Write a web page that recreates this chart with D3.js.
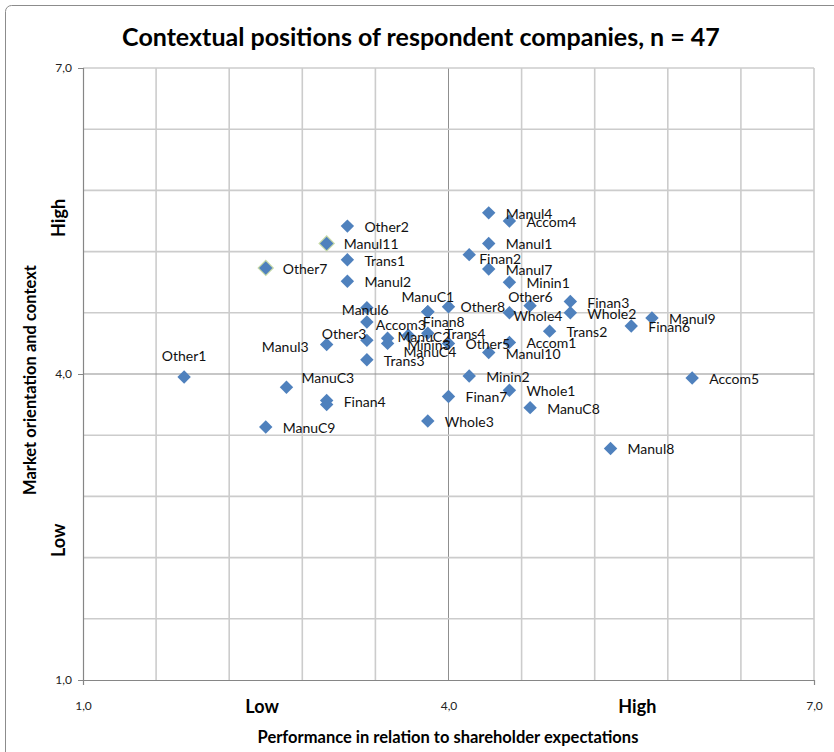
<!DOCTYPE html>
<html>
<head>
<meta charset="utf-8">
<script src="https://cdn.jsdelivr.net/npm/d3@7"></script>
<style>
  html, body { margin: 0; padding: 0; background: #fff; }
  svg { display: block; }
  text { font-family: Lato, "Open Sans", sans-serif; }
</style>
</head>
<body>
<svg id="chart" width="834" height="752"></svg>
<script>
// Respondent companies: performance vs. market orientation (scale 1-7)
const companies = ["Other1","Other2","Other3","Other5","Other6","Other7","Other8",
  "Manul1","Manul2","Manul3","Manul4","Manul6","Manul7","Manul8","Manul9","Manul10","Manul11",
  "ManuC1","ManuC2","ManuC3","ManuC4","ManuC8","ManuC9",
  "Trans1","Trans2","Trans3","Trans4",
  "Finan2","Finan3","Finan4","Finan6","Finan7","Finan8",
  "Accom1","Accom3","Accom4","Accom5",
  "Minin1","Minin2","Minin3",
  "Whole1","Whole2","Whole3","Whole4"];
const performance = [1.83,3.17,3.33,4.00,4.67,2.50,4.00,
  4.33,3.17,3.00,4.33,3.33,4.33,5.33,5.67,4.33,3.00,
  3.83,3.50,2.67,3.50,4.67,2.50,
  3.17,4.83,3.33,3.83,
  4.17,5.00,3.00,5.50,4.00,3.83,
  4.50,3.33,4.50,6.00,
  4.50,4.17,3.67,
  4.50,5.00,3.83,4.50];
const marketOrientation = [3.97,5.45,4.33,4.30,4.67,5.04,4.66,
  5.28,4.91,4.29,5.58,4.65,5.03,3.27,4.55,4.21,5.28,
  4.61,4.35,3.87,4.30,3.67,3.48,
  5.12,4.42,4.14,4.40,
  5.17,4.71,3.74,4.47,3.78,4.61,
  4.31,4.51,5.50,3.96,
  4.90,3.98,4.38,
  3.84,4.60,3.54,4.60];

// Unlabelled responses: one beside Finan4, two sitting under Manul11 and Other7
const extraPerformance = [3.00];
const extraMarket = [3.70];
const underPerformance = [3.00, 2.50];
const underMarket = [5.28, 5.04];

const axisTicks = [1, 4, 7];
const axisTickLabels = ["1,0", "4,0", "7,0"];
const levelLabels = ["Low", "High"];
const xLevelPositions = [2.47, 5.55];
const yLevelPositions = [2.37, 5.53];

// Label placement tweaks where names would collide: [dx, dy, anchor]
const labelNudge = {
  Other1: [0, -16, "middle"], ManuC3: [15, -4], Manul6: [-25, 7], Other3: [-45, -1],
  Manul3: [-18, 8, "end"], Accom3: [9, 8], ManuC2: [10, 4], Minin3: [-1, 15],
  ManuC4: [16, 14], ManuC1: [0, -10, "middle"], Finan8: [-5, 15], Other8: [12, 5],
  Other6: [-22, -4], Whole4: [4, 8], Finan2: [10, 9]
};

const svg = d3.select("#chart");
const plotLeft = 83, plotRight = 814, plotTop = 68, plotBottom = 680;
const x = d3.scaleLinear().domain([1, 7]).range([plotLeft, plotRight]);
const y = d3.scaleLinear().domain([1, 7]).range([plotBottom, plotTop]);

// chart frame
svg.append("rect").attr("x", 5.5).attr("y", 5.5).attr("width", 840).attr("height", 760)
  .attr("rx", 6).attr("fill", "#fff").attr("stroke", "#8c8c8c").attr("stroke-width", 1);

svg.append("text").attr("x", 421).attr("y", 46).attr("text-anchor", "middle")
  .attr("font-size", 25).attr("font-weight", "bold").attr("fill", "#000")
  .text("Contextual positions of respondent companies, n = 47");

// gridlines every 0.6 units
const grid = d3.range(0, 11).map(i => 1 + i * 0.6);
const isCentre = d => Math.abs(d - 4) < 1e-6;
const g = svg.append("g");
g.selectAll("line.vx").data(grid.slice(1)).join("line")
  .attr("x1", d => x(d)).attr("x2", d => x(d)).attr("y1", plotTop).attr("y2", plotBottom)
  .attr("stroke", d => isCentre(d) ? "#8f8f8f" : "#cccccc")
  .attr("stroke-width", d => isCentre(d) ? 1 : 1.6);
g.selectAll("line.hy").data(grid.slice(1)).join("line")
  .attr("y1", d => y(d)).attr("y2", d => y(d)).attr("x1", plotLeft).attr("x2", plotRight)
  .attr("stroke", d => isCentre(d) ? "#8f8f8f" : "#cccccc")
  .attr("stroke-width", d => isCentre(d) ? 1 : 1.6);

// axes
const xAxis = d3.axisBottom(x).tickValues(axisTicks)
  .tickFormat((d, i) => axisTickLabels[i]).tickSize(5).tickPadding(16);
const yAxis = d3.axisLeft(y).tickValues(axisTicks)
  .tickFormat((d, i) => axisTickLabels[i]).tickSize(5).tickPadding(6);
const gx = svg.append("g").attr("transform", `translate(0,${plotBottom})`).call(xAxis);
const gy = svg.append("g").attr("transform", `translate(${plotLeft},0)`).call(yAxis);
[gx, gy].forEach(a => {
  a.select(".domain").attr("stroke", "#868686").attr("stroke-width", 1.2);
  a.selectAll(".tick line").attr("stroke", "#868686");
  a.selectAll(".tick text").attr("font-family", "Lato, sans-serif")
    .attr("font-size", 12).attr("fill", "#222");
});
gx.selectAll(".tick line").attr("y2", 0);

// Low / High level labels
svg.append("g").selectAll("text").data(levelLabels).join("text")
  .attr("x", (d, i) => x(xLevelPositions[i])).attr("y", 713)
  .attr("text-anchor", "middle").attr("font-size", 18).attr("font-weight", "bold")
  .text(d => d);
svg.append("g").selectAll("text").data(levelLabels).join("text")
  .attr("transform", (d, i) => `translate(65,${y(yLevelPositions[i])}) rotate(-90)`)
  .attr("text-anchor", "middle").attr("font-size", 18).attr("font-weight", "bold")
  .text(d => d);

svg.append("text").attr("x", 448).attr("y", 743).attr("text-anchor", "middle")
  .attr("font-size", 16.5).attr("font-weight", "bold")
  .text("Performance in relation to shareholder expectations");
svg.append("text").attr("transform", `translate(36,380) rotate(-90)`)
  .attr("text-anchor", "middle").attr("font-size", 16.5).attr("font-weight", "bold")
  .text("Market orientation and context");

// markers
const diamond = d3.symbol(d3.symbolSquare, 90);
const under = underPerformance.map((v, i) => ({ x: v, y: underMarket[i] }));
svg.append("g").selectAll("path").data(under).join("path")
  .attr("d", diamond)
  .attr("transform", d => `translate(${x(d.x)},${y(d.y)}) rotate(45)`)
  .attr("fill", "#4f81bd").attr("stroke", "#c6d9a8").attr("stroke-width", 2.4);

const extra = extraPerformance.map((v, i) => ({ x: v, y: extraMarket[i] }));
svg.append("g").selectAll("path").data(extra).join("path")
  .attr("d", diamond)
  .attr("transform", d => `translate(${x(d.x)},${y(d.y)}) rotate(45)`)
  .attr("fill", "#4f81bd");

const pts = companies.map((n, i) => ({ name: n, x: performance[i], y: marketOrientation[i] }));
svg.append("g").selectAll("path").data(pts).join("path")
  .attr("d", diamond)
  .attr("transform", d => `translate(${x(d.x)},${y(d.y)}) rotate(45)`)
  .attr("fill", "#4f81bd");

svg.append("g").selectAll("text").data(pts).join("text")
  .attr("x", d => x(d.x) + (labelNudge[d.name] ? labelNudge[d.name][0] : 17))
  .attr("y", d => y(d.y) + (labelNudge[d.name] ? labelNudge[d.name][1] : 6))
  .attr("text-anchor", d => (labelNudge[d.name] && labelNudge[d.name][2]) || "start")
  .attr("font-size", 14).attr("fill", "#111")
  .text(d => d.name);
</script>
</body>
</html>
